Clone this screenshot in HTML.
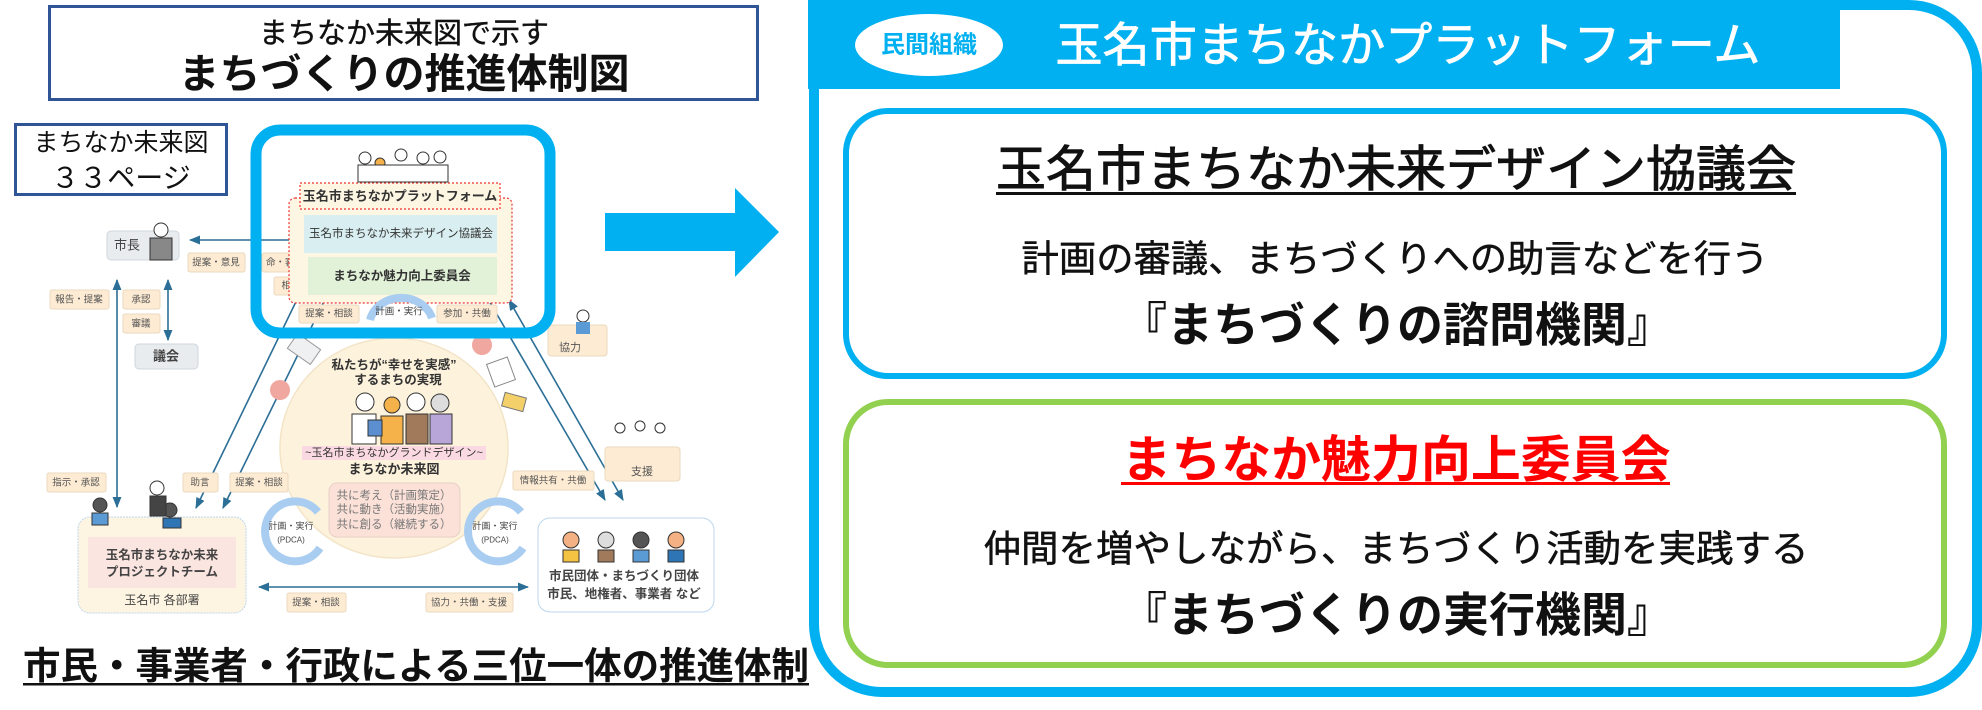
<!DOCTYPE html>
<html><head><meta charset="utf-8"><style>
html,body{margin:0;padding:0;background:#fff;}
svg{display:block;}
text{font-family:"Liberation Sans","Noto Sans CJK JP",sans-serif;}
</style></head><body>
<svg width="1982" height="710" viewBox="0 0 1982 710" xmlns="http://www.w3.org/2000/svg">
<defs>
<marker id="ah" viewBox="0 0 10 10" refX="9" refY="5" markerWidth="7" markerHeight="7" orient="auto-start-reverse"><path d="M0,1 L10,5 L0,9 z" fill="#2b6e96"/></marker>
</defs>
<rect x="49.5" y="6.5" width="708" height="93" fill="#fff" stroke="#2f5597" stroke-width="3"/>
<text x="404" y="34" font-size="29" text-anchor="middle" dominant-baseline="central" fill="#111" stroke="#111" stroke-width="0.4">まちなか未来図で示す</text>
<text x="404" y="74" font-size="41" font-weight="bold" text-anchor="middle" dominant-baseline="central" fill="#111">まちづくりの推進体制図</text>
<rect x="15.5" y="124.5" width="211" height="70" fill="#fff" stroke="#2f5597" stroke-width="3"/>
<text x="121" y="143" font-size="25" text-anchor="middle" dominant-baseline="central" fill="#111">まちなか未来図</text>
<text x="121" y="178" font-size="28" text-anchor="middle" dominant-baseline="central" fill="#111">３３ページ</text>

<g stroke="#2b6e96" stroke-width="1.6" fill="none">
<line x1="117" y1="280" x2="117" y2="507" marker-start="url(#ah)" marker-end="url(#ah)"/>
<line x1="168" y1="280" x2="168" y2="340" marker-start="url(#ah)" marker-end="url(#ah)"/>
<line x1="190" y1="240" x2="308" y2="240" marker-start="url(#ah)" marker-end="url(#ah)"/>
<line x1="196" y1="508" x2="321" y2="250" marker-start="url(#ah)" marker-end="url(#ah)"/>
<line x1="223" y1="508" x2="331" y2="287" marker-start="url(#ah)" marker-end="url(#ah)"/>
<line x1="605" y1="500" x2="481" y2="287" marker-start="url(#ah)" marker-end="url(#ah)"/>
<line x1="623" y1="500" x2="509" y2="300" marker-start="url(#ah)" marker-end="url(#ah)"/>
<line x1="259" y1="587" x2="528" y2="587" marker-start="url(#ah)" marker-end="url(#ah)"/>
</g>

<ellipse cx="394" cy="448" rx="114" ry="110" fill="#fdf3dd" stroke="#f3e4c8" stroke-width="1.5"/>
<rect x="290" y="340" width="28" height="18" fill="#eef0f2" stroke="#999" transform="rotate(35 304 349)"/>
<circle cx="280" cy="390" r="10" fill="#f0a7a0"/>
<circle cx="482" cy="345" r="10" fill="#f0a7a0"/>
<rect x="503" y="395" width="22" height="14" fill="#f4d06a" stroke="#777" transform="rotate(15 514 402)"/>
<rect x="490" y="360" width="22" height="24" fill="#fff" stroke="#888" transform="rotate(-20 501 372)"/>
<text x="394" y="365" font-size="12.5" font-weight="bold" text-anchor="middle" dominant-baseline="central" fill="#333">私たちが“幸せを実感”</text>
<text x="398" y="380" font-size="12.5" font-weight="bold" text-anchor="middle" dominant-baseline="central" fill="#333">するまちの実現</text>
<g stroke="#333" stroke-width="1">
<circle cx="365" cy="402" r="9" fill="#fff"/><circle cx="392" cy="405" r="8" fill="#f5b24a"/><circle cx="416" cy="402" r="9" fill="#fff"/><circle cx="440" cy="403" r="9" fill="#ddd"/>
<rect x="352" y="414" width="24" height="30" fill="#fff"/><rect x="381" y="416" width="22" height="28" fill="#f5b24a"/><rect x="406" y="414" width="22" height="30" fill="#a07a5a"/><rect x="430" y="414" width="22" height="30" fill="#b9a6d8"/>
<rect x="368" y="420" width="14" height="16" fill="#5b8fd0"/>
</g>
<rect x="302" y="446" width="184" height="14" fill="#fbd9e3"/>
<text x="394" y="453" font-size="11" text-anchor="middle" dominant-baseline="central" fill="#333">~玉名市まちなかグランドデザイン~</text>
<text x="394" y="469" font-size="13" font-weight="bold" text-anchor="middle" dominant-baseline="central" fill="#333">まちなか未来図</text>
<rect x="329" y="483" width="131" height="54" rx="8" fill="#fbe1d8" stroke="#e8cfc5"/>
<text x="394" y="496" font-size="11.5" text-anchor="middle" dominant-baseline="central" fill="#777">共に考え（計画策定）</text>
<text x="394" y="510" font-size="11.5" text-anchor="middle" dominant-baseline="central" fill="#777">共に動き（活動実施）</text>
<text x="394" y="525" font-size="11.5" text-anchor="middle" dominant-baseline="central" fill="#777">共に創る（継続する）</text>
<g fill="none" stroke="#a9cdf0" stroke-width="8">
<path d="M318,512 A30,30 0 1 0 320,548"/>
<path d="M521,512 A30,30 0 1 0 523,548"/>
</g>
<text x="291" y="526" font-size="9" text-anchor="middle" dominant-baseline="central" fill="#444">計画・実行</text>
<text x="291" y="540" font-size="8" text-anchor="middle" dominant-baseline="central" fill="#444">(PDCA)</text>
<text x="495" y="526" font-size="9" text-anchor="middle" dominant-baseline="central" fill="#444">計画・実行</text>
<text x="495" y="540" font-size="8" text-anchor="middle" dominant-baseline="central" fill="#444">(PDCA)</text>

<rect x="107" y="231" width="72" height="29" rx="4" fill="#e9ecef" stroke="#cfd6de"/>
<text x="127" y="245" font-size="13" text-anchor="middle" dominant-baseline="central" fill="#444">市長</text>
<circle cx="161" cy="230" r="7" fill="#fff" stroke="#333"/><rect x="150" y="238" width="22" height="22" fill="#888" stroke="#333"/>
<rect x="135" y="344" width="63" height="25" rx="4" fill="#e9ecef" stroke="#cfd6de"/>
<text x="166" y="356" font-size="13" font-weight="bold" text-anchor="middle" dominant-baseline="central" fill="#444">議会</text>

<g fill="#fdebd3" stroke="#ead9bf">
<rect x="188" y="253" width="57" height="19" rx="2"/>
<rect x="262" y="253" width="47" height="19" rx="2"/>
<rect x="274" y="277" width="35" height="18" rx="2"/>
<rect x="50" y="290" width="59" height="19" rx="2"/>
<rect x="123" y="290" width="37" height="19" rx="2"/>
<rect x="123" y="314" width="37" height="19" rx="2"/>
<rect x="299" y="305" width="60" height="18" rx="2"/>
<rect x="437" y="305" width="60" height="18" rx="2"/>
<rect x="47" y="473" width="59" height="19" rx="2"/>
<rect x="183" y="473" width="35" height="19" rx="2"/>
<rect x="230" y="473" width="58" height="19" rx="2"/>
<rect x="513" y="471" width="81" height="19" rx="2"/>
<rect x="287" y="593" width="59" height="19" rx="2"/>
<rect x="426" y="593" width="87" height="19" rx="2"/>
<rect x="548" y="325" width="59" height="31" rx="3"/>
<rect x="605" y="447" width="75" height="34" rx="3"/>
</g>
<g font-size="9.5" fill="#555" text-anchor="middle" dominant-baseline="central">
<text x="216" y="263">提案・意見</text>
<text x="285" y="263">命・審議</text>
<text x="291" y="286">相談</text>
<text x="79" y="300">報告・提案</text>
<text x="141" y="300">承認</text>
<text x="141" y="324">審議</text>
<text x="329" y="314">提案・相談</text>
<text x="467" y="314">参加・共働</text>
<text x="76" y="483">指示・承認</text>
<text x="200" y="483">助言</text>
<text x="259" y="483">提案・相談</text>
<text x="553" y="481">情報共有・共働</text>
<text x="316" y="603">提案・相談</text>
<text x="469" y="603">協力・共働・支援</text>
<text x="570" y="348" font-size="11">協力</text>
<text x="642" y="472" font-size="11">支援</text>
</g>
<circle cx="583" cy="316" r="6" fill="#fff" stroke="#333"/><rect x="576" y="322" width="14" height="12" fill="#5b9bd5"/>
<g fill="#fff" stroke="#333"><circle cx="620" cy="428" r="5"/><circle cx="640" cy="426" r="5"/><circle cx="660" cy="428" r="5"/></g>

<rect x="78" y="517" width="168" height="96" rx="12" fill="#fdf5e2" stroke="#bcd7ef" stroke-dasharray="2 1"/>
<rect x="88" y="537" width="148" height="51" fill="#fbe5e0"/>
<text x="162" y="555" font-size="12.5" font-weight="bold" text-anchor="middle" dominant-baseline="central" fill="#444">玉名市まちなか未来</text>
<text x="162" y="572" font-size="12.5" font-weight="bold" text-anchor="middle" dominant-baseline="central" fill="#444">プロジェクトチーム</text>
<text x="162" y="600" font-size="12" text-anchor="middle" dominant-baseline="central" fill="#444">玉名市 各部署</text>
<g stroke="#333" fill="#fff"><circle cx="100" cy="505" r="7" fill="#555"/><circle cx="157" cy="488" r="7"/><circle cx="170" cy="510" r="7" fill="#555"/><rect x="92" y="513" width="16" height="12" fill="#5b9bd5"/><rect x="150" y="496" width="16" height="20" fill="#444"/><rect x="163" y="518" width="18" height="10" fill="#2e75b6"/></g>
<rect x="538" y="518" width="176" height="94" rx="12" fill="#fff" stroke="#bcd7ef"/>
<g stroke="#333"><circle cx="571" cy="540" r="8" fill="#f4b183"/><circle cx="606" cy="540" r="8" fill="#ddd"/><circle cx="641" cy="540" r="8" fill="#555"/><circle cx="676" cy="540" r="8" fill="#f4b183"/>
<rect x="563" y="550" width="16" height="12" fill="#f5c342"/><rect x="598" y="550" width="16" height="12" fill="#a07a5a"/><rect x="633" y="550" width="16" height="12" fill="#5b9bd5"/><rect x="668" y="550" width="16" height="12" fill="#2e75b6"/></g>
<text x="624" y="576" font-size="12.5" font-weight="bold" text-anchor="middle" dominant-baseline="central" fill="#444">市民団体・まちづくり団体</text>
<text x="624" y="594" font-size="12.5" font-weight="bold" text-anchor="middle" dominant-baseline="central" fill="#444">市民、地権者、事業者 など</text>

<rect x="289" y="198" width="223" height="105" rx="6" fill="#fdf6e3" stroke="#e33" stroke-width="1.2" stroke-dasharray="2 2"/>
<rect x="300" y="183" width="200" height="26" fill="#fdf6e3" stroke="#e33" stroke-width="1.2" stroke-dasharray="2 2"/>
<text x="400" y="196" font-size="13" font-weight="bold" text-anchor="middle" dominant-baseline="central" fill="#333">玉名市まちなかプラットフォーム</text>
<rect x="304" y="215" width="193" height="38" fill="#d9eef0"/>
<text x="401" y="234" font-size="11.5" text-anchor="middle" dominant-baseline="central" fill="#333">玉名市まちなか未来デザイン協議会</text>
<rect x="308" y="257" width="189" height="38" fill="#e2f2d8"/>
<text x="402" y="276" font-size="12.5" font-weight="bold" text-anchor="middle" dominant-baseline="central" fill="#333">まちなか魅力向上委員会</text>
<path d="M370,320 A32,28 0 0 1 432,318" fill="none" stroke="#a9cdf0" stroke-width="8"/>
<text x="399" y="312" font-size="9.5" text-anchor="middle" dominant-baseline="central" fill="#444">計画・実行</text>
<g stroke="#333" fill="#fff"><circle cx="365" cy="158" r="6"/><circle cx="380" cy="163" r="5" fill="#f5b24a"/><circle cx="401" cy="155" r="6"/><circle cx="423" cy="158" r="6"/><circle cx="440" cy="157" r="6"/>
<rect x="358" y="165" width="90" height="17" fill="#fff"/></g>
<rect x="256" y="130" width="294" height="203" rx="24" fill="none" stroke="#00b0f0" stroke-width="11"/>

<polygon points="605,213 735,213 735,188 779,232 735,277 735,251 605,251" fill="#00b0f0"/>

<text x="23" y="666" font-size="37.4" font-weight="bold" dominant-baseline="central" fill="#111" textLength="786" lengthAdjust="spacingAndGlyphs">市民・事業者・行政による三位一体の推進体制</text>
<rect x="23" y="683" width="786" height="2.5" fill="#111"/>

<rect x="814" y="5" width="1163" height="687" rx="68" fill="#fff" stroke="#00b0f0" stroke-width="10"/>
<rect x="808" y="0" width="1032" height="89" fill="#00b0f0"/>
<ellipse cx="929" cy="45" rx="74" ry="31" fill="#fff"/>
<text x="929" y="45" font-size="24" font-weight="bold" text-anchor="middle" dominant-baseline="central" fill="#00b0f0">民間組織</text>
<text x="1408" y="45" font-size="47" text-anchor="middle" dominant-baseline="central" fill="#fff" stroke="#fff" stroke-width="0.8" textLength="705" lengthAdjust="spacingAndGlyphs">玉名市まちなかプラットフォーム</text>

<rect x="846" y="111" width="1098" height="265" rx="42" fill="#fff" stroke="#00b0f0" stroke-width="6"/>
<text x="1396" y="170" font-size="49" text-anchor="middle" dominant-baseline="central" fill="#111" stroke="#111" stroke-width="0.9" textLength="800" lengthAdjust="spacingAndGlyphs">玉名市まちなか未来デザイン協議会</text>
<rect x="996" y="192" width="800" height="3" fill="#111"/>
<text x="1395" y="259" font-size="37" text-anchor="middle" dominant-baseline="central" fill="#111" stroke="#111" stroke-width="0.5" textLength="747" lengthAdjust="spacingAndGlyphs">計画の審議、まちづくりへの助言などを行う</text>
<text x="1397" y="325" font-size="47" font-weight="bold" text-anchor="middle" dominant-baseline="central" fill="#111" textLength="552" lengthAdjust="spacingAndGlyphs">『まちづくりの諮問機関』</text>

<rect x="846" y="402" width="1098" height="263" rx="42" fill="#fff" stroke="#92d050" stroke-width="6"/>
<text x="1396" y="460" font-size="50" font-weight="bold" text-anchor="middle" dominant-baseline="central" fill="#ff0000" textLength="549" lengthAdjust="spacingAndGlyphs">まちなか魅力向上委員会</text>
<rect x="1121" y="482" width="549" height="3" fill="#ff0000"/>
<text x="1396" y="549" font-size="37" text-anchor="middle" dominant-baseline="central" fill="#111" stroke="#111" stroke-width="0.5" textLength="825" lengthAdjust="spacingAndGlyphs">仲間を増やしながら、まちづくり活動を実践する</text>
<text x="1397" y="615" font-size="47" font-weight="bold" text-anchor="middle" dominant-baseline="central" fill="#111" textLength="552" lengthAdjust="spacingAndGlyphs">『まちづくりの実行機関』</text>
</svg>
</body></html>
